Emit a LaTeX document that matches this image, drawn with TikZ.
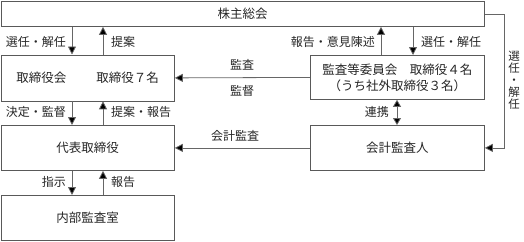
\documentclass[tikz,border=0pt]{standalone}
\usepackage{fontspec}
\setmainfont{Noto Sans CJK JP}
\usetikzlibrary{arrows.meta,calc}
\tikzset{
  box/.style={draw=black!65, line width=0.8pt, fill=white, anchor=north west, inner sep=0pt, align=center, text=black!85},
  lbl/.style={inner sep=0pt, text=black!85, font=\fontsize{12}{14}\selectfont},
  arr/.style={draw=black!60, line width=0.8pt, -{Triangle[length=8pt,width=8pt,fill=black]}},
  darr/.style={draw=black!60, line width=0.8pt, {Triangle[length=7pt,width=8pt,fill=black]}-{Triangle[length=7pt,width=8pt,fill=black]}}
}
\begin{document}
\begin{tikzpicture}[x=1pt,y=-1pt, font=\fontsize{12.5}{16}\selectfont]
\useasboundingbox (0,0) rectangle (524,241);
% boxes
\node[box, minimum width=483.5pt, minimum height=25pt] (soukai) at (0.5,1) {株主総会};
\node[box, minimum width=173.5pt, minimum height=46pt] (torikai) at (0.5,54.5) {取締役会\hspace{2.4em}取締役７名};
\node[box, minimum width=174pt, minimum height=44pt] (kansa) at (310,55) {監査等委員会　取締役４名\\（うち社外取締役３名）};
\node[box, minimum width=173.5pt, minimum height=45pt] (daihyo) at (0.5,125) {代表取締役};
\node[box, minimum width=174pt, minimum height=45pt] (kaikei) at (310,125) {会計監査人};
\node[box, minimum width=173.5pt, minimum height=45pt] (naibu) at (0.5,195) {内部監査室};
% x positions
\coordinate (xa) at (72,0);
\coordinate (xb) at (103,0);
\coordinate (xc) at (381,0);
\coordinate (xd) at (413,0);
\coordinate (xm) at (397,0);
% vertical arrows
\draw[arr] (soukai.south -| xa) -- (torikai.north -| xa);
\draw[arr] (torikai.north -| xb) -- (soukai.south -| xb);
\draw[arr] (kansa.north -| xc) -- (soukai.south -| xc);
\draw[arr] (soukai.south -| xd) -- (kansa.north -| xd);
\draw[arr] (torikai.south -| xa) -- (daihyo.north -| xa);
\draw[arr] (daihyo.north -| xb) -- (torikai.south -| xb);
\draw[arr] (daihyo.south -| xa) -- (naibu.north -| xa);
\draw[arr] (naibu.north -| xb) -- (daihyo.south -| xb);
\draw[darr] (kansa.south -| xm) -- (kaikei.north -| xm);
% horizontal arrows
\draw[arr] (kansa.west) -- (torikai.east);
\draw[arr] (kaikei.west) -- (daihyo.east);
\draw[arr] (soukai.east) -| ($(kaikei.east)+(20,0)$) -- (kaikei.east);
% labels
\node[lbl, anchor=east] at (66,42) {選任・解任};
\node[lbl, anchor=west] at (111,42) {提案};
\node[lbl, anchor=east] at (375,42) {報告・意見陳述};
\node[lbl, anchor=west] at (421,42) {選任・解任};
\node[lbl] at (242,65) {監査};
\node[lbl] at (242,91) {監督};
\node[lbl, anchor=east] at (66,112) {決定・監督};
\node[lbl, anchor=west] at (111,112) {提案・報告};
\node[lbl, anchor=east] at (389,112) {連携};
\node[lbl] at (235,136) {会計監査};
\node[lbl, anchor=east] at (66,182) {指示};
\node[lbl, anchor=west] at (111,182) {報告};
\node[lbl, align=center, font=\fontsize{11.5}{12}\selectfont] at (514,80) {選\\任\\・\\解\\任};
\end{tikzpicture}
\end{document}
